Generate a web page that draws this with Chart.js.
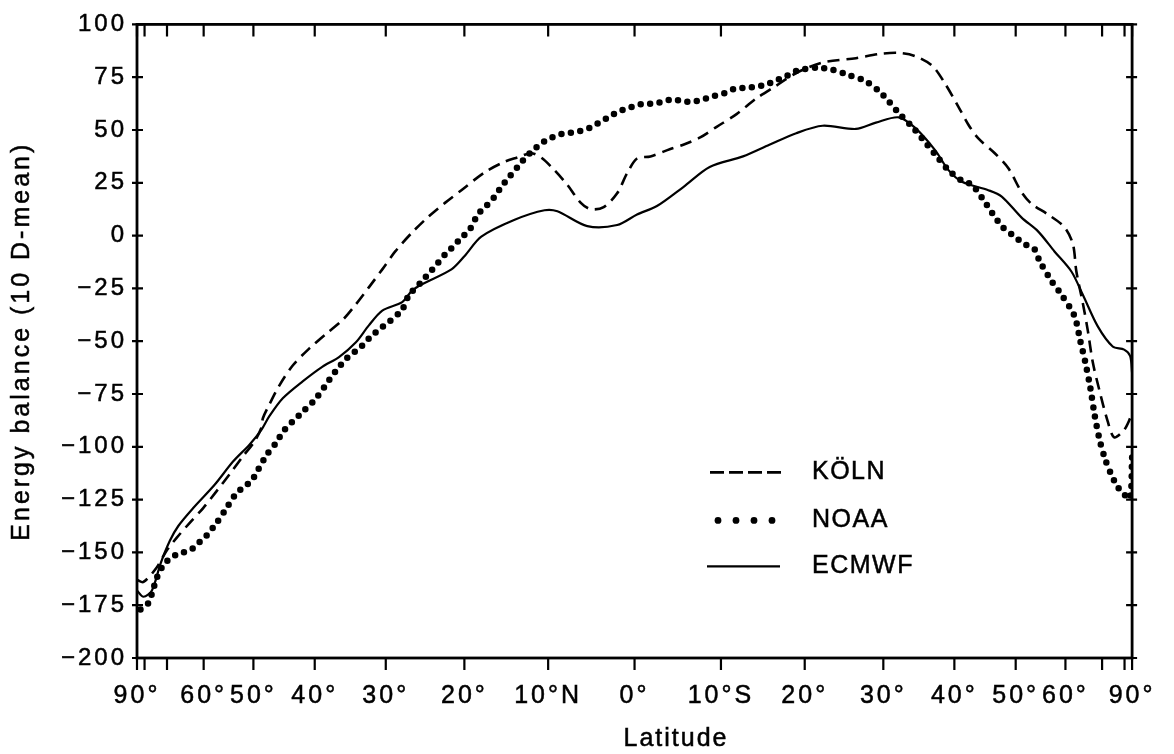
<!DOCTYPE html>
<html>
<head>
<meta charset="utf-8">
<script src="https://cdn.jsdelivr.net/npm/chart.js@4.4.1/dist/chart.umd.min.js"></script>
<style>
html,body{margin:0;padding:0;background:#fff;}
#wrap{width:1174px;height:754px;}
</style>
</head>
<body>
<div id="wrap"><canvas id="c" width="1174" height="754"></canvas></div>
<script>
// X axis is linear in mu = sine of latitude (negative = north, positive = south)
const tickLatitudes = [90,80,70,60,50,40,30,20,10,0,-10,-20,-30,-40,-50,-60,-70,-80,-90];
const tickLabels = ['90°','','','60°','50°','40°','30°','20°','10°N','0°','10°S','20°','30°','40°','50°','60°','','','90°'];
const seriesNames = ['KÖLN','NOAA','ECMWF'];
const xTitle = 'Latitude';
const yTitle = 'Energy balance (10 D-mean)';

const kolnMu = [-1.000,-0.987,-0.960,-0.940,-0.920,-0.894,-0.867,-0.840,-0.814,-0.787,
  -0.764,-0.750,-0.747,-0.734,-0.714,-0.687,-0.654,-0.620,-0.587,-0.560,
  -0.534,-0.507,-0.481,-0.447,-0.414,-0.381,-0.348,-0.301,-0.261,-0.235,
  -0.208,-0.188,-0.161,-0.135,-0.108,-0.088,-0.062,-0.035,-0.015,0.005,
  0.032,0.072,0.098,0.132,0.165,0.205,0.245,0.285,0.325,0.378,
  0.445,0.491,0.531,0.564,0.598,0.624,0.651,0.671,0.691,0.724,
  0.751,0.778,0.798,0.831,0.864,0.881,0.888,0.901,0.911,0.921,
  0.934,0.951,0.964,0.984,0.997,1.000];
const kolnVal = [-163,-164,-157,-149,-143,-136,-129,-121,-113,-104.5,
  -97.5,-91,-86.5,-80,-71,-61.5,-53.5,-46.5,-40,-32.5,
  -24.5,-16,-7.5,1.5,9,15.5,21.5,30,35,37,
  39,37,31,24,15.5,12.5,13.5,20,29.5,36.5,
  37.5,41,43,46.5,51.5,57.5,65,71,77,82,
  84,86,86.5,85,80.5,72,61,52.5,46,39,
  32,20.5,15,10,4,-4,-17,-32,-45,-60,
  -73,-88,-95.5,-92,-86,-84];

const noaaMu = [-0.993,-0.977,-0.970,-0.960,-0.947,-0.934,-0.920,-0.907,-0.890,-0.874,
  -0.860,-0.840,-0.820,-0.800,-0.770,-0.757,-0.740,-0.720,-0.707,-0.687,
  -0.667,-0.640,-0.614,-0.600,-0.580,-0.560,-0.547,-0.531,-0.511,-0.494,
  -0.467,-0.454,-0.427,-0.408,-0.381,-0.368,-0.348,-0.331,-0.315,-0.298,
  -0.281,-0.268,-0.251,-0.235,-0.221,-0.208,-0.191,-0.175,-0.155,-0.138,
  -0.118,-0.102,-0.085,-0.068,-0.052,-0.035,-0.018,0.002,0.018,0.038,
  0.058,0.078,0.098,0.118,0.138,0.158,0.181,0.201,0.225,0.245,
  0.265,0.285,0.305,0.325,0.368,0.398,0.431,0.465,0.491,0.511,
  0.531,0.558,0.578,0.604,0.631,0.658,0.678,0.698,0.718,0.738,
  0.761,0.784,0.804,0.814,0.838,0.858,0.884,0.896,0.906,0.916,
  0.924,0.934,0.946,0.958,0.971,0.984,0.996,1.000];
const noaaVal = [-177,-174,-169.5,-162,-156,-153,-151,-150,-148.5,-145,
  -142,-136,-129,-122,-116,-111,-104,-98,-93,-88,
  -83.5,-77,-68.5,-64,-58.5,-54.5,-52,-48,-44,-41,
  -35,-28.5,-21.5,-16.5,-9,-6,-1,3,10,14,
  18.5,23,28,32.5,36.5,39.5,43,45.5,47.5,48.5,
  49,50,51.5,54,56,58.5,60,61.5,62.5,62.5,
  63.5,64.5,63.5,63.5,64.5,66,67.5,69.5,70,70.5,
  71.5,73.5,75.5,78,79.5,78.5,76,73,68.5,63.5,
  58,51.5,46,38.5,31,26,24,18,11,4.5,
  0,-4,-6.5,-12,-21.5,-28,-38,-50,-60,-72,
  -84,-96,-106,-113,-119,-122.5,-124.5,-105];

const ecmwfMu = [-1.000,-0.987,-0.970,-0.953,-0.934,-0.917,-0.887,-0.844,-0.807,-0.774,
  -0.750,-0.734,-0.707,-0.667,-0.627,-0.594,-0.560,-0.534,-0.507,-0.467,
  -0.447,-0.427,-0.368,-0.341,-0.308,-0.241,-0.181,-0.155,-0.095,-0.035,
  0.005,0.045,0.098,0.151,0.218,0.271,0.325,0.378,0.445,0.485,
  0.531,0.564,0.604,0.631,0.658,0.711,0.738,0.778,0.811,0.844,
  0.878,0.901,0.931,0.961,0.984,0.996,1.000];
const ecmwfVal = [-168,-171,-168,-155.5,-144.5,-137.5,-129,-118,-107,-99,
  -92,-85.5,-77,-69,-62,-57.5,-50.5,-42.5,-35.5,-31.5,
  -26,-23,-16,-9.5,-0.5,7.5,12,11.5,4.5,5,
  10,14,23,32.5,37.5,43,48.5,52,50.5,53.5,
  56,51,40.5,31,25.5,21.5,18.5,8.5,2,-7.5,
  -17,-28,-43,-52.5,-54,-57,-65];

const FONT = "'Liberation Sans', Arial, Helvetica, sans-serif";
const INK = '#000';
const toMu = lat => -Math.sin(lat * Math.PI / 180);
const pairs = (xs, ys) => xs.map((m, i) => ({x: m, y: ys[i]}));

function inkText(ctx, text, x, y) {
  ctx.fillText(text, x, y);
  ctx.strokeText(text, x, y);
}

const framePlugin = {
  id: 'frame',
  beforeDraw(chart) {
    const c = chart.ctx;
    c.save();
    c.fillStyle = '#fff';
    c.fillRect(0, 0, chart.width, chart.height);
    c.restore();
    c.letterSpacing = '3px';
  },
  afterDatasetsDraw(chart) {
    const {ctx, chartArea: a, scales: {x, y}} = chart;
    ctx.save();
    ctx.strokeStyle = INK;
    ctx.lineWidth = 2.8;
    ctx.strokeRect(a.left, a.top, a.right - a.left, a.bottom - a.top);
    ctx.lineWidth = 2.2;
    ctx.beginPath();
    tickLatitudes.forEach(l => {
      const px = x.getPixelForValue(toMu(l));
      ctx.moveTo(px, a.bottom); ctx.lineTo(px, a.bottom + 12);
      ctx.moveTo(px, a.top); ctx.lineTo(px, a.top + 12);
    });
    y.ticks.forEach(t => {
      const py = y.getPixelForValue(t.value);
      ctx.moveTo(a.left - 5, py); ctx.lineTo(a.left + 6, py);
      ctx.moveTo(a.right - 6, py); ctx.lineTo(a.right + 5, py);
    });
    ctx.stroke();
    ctx.restore();
  }
};

const labelPlugin = {
  id: 'inlineLegend',
  afterDraw(chart) {
    const {ctx, chartArea: a, scales: {x}} = chart;
    const x0 = a.left + 573, x1 = a.left + 645, tx = a.left + 675;
    const rows = [a.top + 448, a.top + 496, a.top + 542];
    ctx.save();
    ctx.strokeStyle = INK; ctx.fillStyle = INK;
    // KÖLN dashed sample
    ctx.lineWidth = 2.6; ctx.setLineDash([14, 5]);
    ctx.beginPath(); ctx.moveTo(x0, rows[0]); ctx.lineTo(x1, rows[0]); ctx.stroke();
    ctx.setLineDash([]);
    // NOAA dotted sample
    for (let i = 0; i < 4; i++) {
      ctx.beginPath(); ctx.arc(x0 + 8 + i * 18, rows[1], 3.4, 0, Math.PI * 2); ctx.fill();
    }
    // ECMWF solid sample
    ctx.lineWidth = 2.2;
    ctx.beginPath(); ctx.moveTo(x0 - 3, rows[2]); ctx.lineTo(x1 - 2, rows[2]); ctx.stroke();
    ctx.lineWidth = 0.5;
    ctx.font = '25px ' + FONT;
    ctx.letterSpacing = '1.5px';
    ctx.textBaseline = 'middle';
    ctx.textAlign = 'left';
    seriesNames.forEach((n, i) => inkText(ctx, n, tx, rows[i]));
    // x axis title, set under the 0°–10°S labels as in the original
    ctx.letterSpacing = '2px';
    inkText(ctx, xTitle, x.getPixelForValue(0) - 11, chart.height - 15);
    // y axis title, rotated
    ctx.letterSpacing = '3px';
    ctx.textAlign = 'center';
    ctx.translate(22, (a.top + a.bottom) / 2);
    ctx.rotate(-Math.PI / 2);
    inkText(ctx, yTitle, 0, 0);
    ctx.restore();
  }
};

new Chart(document.getElementById('c').getContext('2d'), {
  type: 'line',
  data: {
    datasets: [
      {label: seriesNames[0], data: pairs(kolnMu, kolnVal), borderColor: INK, borderWidth: 2.6,
       borderDash: [12, 7], pointRadius: 0, tension: 0.3, fill: false},
      {label: seriesNames[1], data: pairs(noaaMu, noaaVal), borderColor: INK, borderWidth: 6.5,
       borderDash: [0, 9.5], borderCapStyle: 'round', pointRadius: 0, tension: 0.3, fill: false},
      {label: seriesNames[2], data: pairs(ecmwfMu, ecmwfVal), borderColor: INK, borderWidth: 2.2,
       pointRadius: 0, tension: 0.3, fill: false}
    ]
  },
  options: {
    responsive: false,
    animation: false,
    devicePixelRatio: 1,
    layout: {padding: {left: 0, right: 36, top: 20, bottom: 0}},
    plugins: {legend: {display: false}, tooltip: {enabled: false}},
    scales: {
      x: {
        type: 'linear', min: -1, max: 1, position: 'bottom',
        afterBuildTicks: s => { s.ticks = tickLatitudes.map(l => ({value: toMu(l)})); },
        afterFit: s => { s.height = 96; },
        grid: {display: false, drawTicks: false},
        border: {display: false},
        ticks: {autoSkip: false, maxRotation: 0, minRotation: 0, padding: 23, color: INK,
                textStrokeColor: INK, textStrokeWidth: 0.5,
                font: {family: FONT, size: 25}, callback: (v, i) => tickLabels[i]},
        title: {display: false}
      },
      y: {
        min: -200, max: 100,
        afterFit: s => { s.width = 137; },
        grid: {display: false, drawTicks: false},
        border: {display: false},
        ticks: {stepSize: 25, padding: 10, color: INK, textStrokeColor: INK, textStrokeWidth: 0.5,
                font: {family: FONT, size: 24},
                callback: v => v < 0 ? '\u2212' + Math.abs(v) : String(v)},
        title: {display: false}
      }
    }
  },
  plugins: [framePlugin, labelPlugin]
});
</script>
</body>
</html>
